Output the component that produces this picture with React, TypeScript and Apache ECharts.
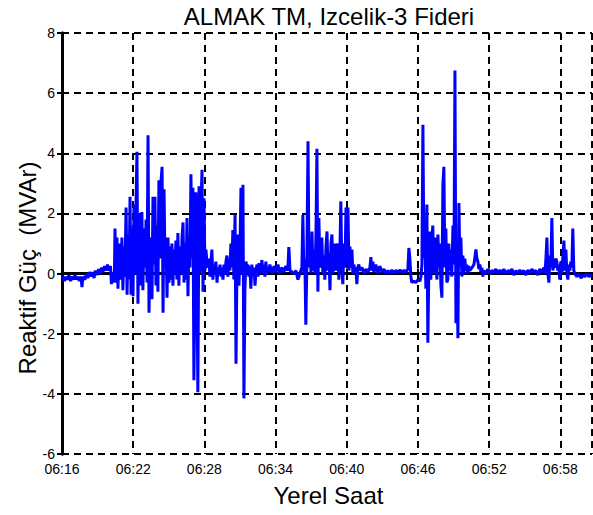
import React, { useEffect, useRef } from "react";
import * as echarts from "echarts";

// ---- texts ----
const titleText = "ALMAK TM, Izcelik-3 Fideri";
const xAxisTitle = "Yerel Saat";
const yAxisTitle = "Reaktif Güç  (MVAr)";

// ---- axes ----
const startHour = 6;
const startMinute = 16; // x = seconds after 06:16:00
const xMaxSec = 2680;
const xTickSec = 360; // 6 minutes
const yMin = -6;
const yMax = 8;
const yStep = 2;

// ---- data: [seconds after 06:16:00, MVAr] ----
const calmStart: [number, number][] = [
  [0, -0.15], [5, -0.1], [13, -0.25], [20, -0.1], [28, -0.2], [35, -0.05], [43, -0.25], [51, -0.1],
  [58, -0.2], [66, -0.05], [73, -0.2], [81, -0.1], [88, -0.25], [96, -0.1], [101, -0.45], [106, -0.1],
  [116, -0.2], [124, 0.0], [131, -0.15], [139, 0.05], [147, -0.1], [154, 0.05], [162, -0.15], [169, 0.1],
  [177, -0.05], [185, 0.15], [192, 0.0], [200, 0.2], [207, 0.05], [215, 0.25], [222, 0.1], [230, 0.3],
  [238, 0.1], [245, 0.25], [250, -0.35], [255, 0.05], [260, -0.3], [265, 0.0],
];

const burst1: [number, number][] = [
  [268, 1.5], [273, -0.3], [278, 1.2], [283, -0.5], [288, 0.6], [293, 1.0], [298, -0.2], [303, 1.2],
  [308, -0.55], [313, 0.9], [318, -0.1], [324, 2.2], [329, -0.7], [334, 1.3], [339, -0.2], [344, 2.55],
  [349, -0.7], [354, 1.5], [359, -0.75], [364, 2.3], [369, 0.0], [374, 2.2], [379, 4.05], [384, -1.0],
  [389, 1.5], [394, 2.0], [399, -0.4], [404, 2.05], [409, -0.55], [415, 1.5], [420, 0.2], [425, 1.8],
  [430, -0.3], [435, 4.6], [440, -1.3], [445, 1.2], [450, 0.0], [455, -0.85], [460, 2.55], [465, 0.3],
  [470, 2.55], [475, -0.4], [480, 1.6], [485, -0.6], [490, 3.1], [495, 0.5], [500, 3.0], [506, 3.55],
  [511, -1.3], [516, 2.8], [521, 0.2], [526, 1.2], [531, -0.8], [536, 1.2], [541, -0.3], [546, 0.9],
  [551, -0.2], [556, 1.0], [561, -0.4], [566, 0.8], [571, 0.0], [576, 1.1], [581, -0.2], [586, 1.35],
  [591, -0.4], [596, 0.9], [602, 0.0], [607, 1.2], [612, 1.7], [617, -0.3], [622, 1.0], [627, -0.2],
  [632, 1.85], [637, -0.75], [642, 1.2], [647, 0.2], [652, 3.3], [657, 0.5], [662, 2.85], [667, -3.55],
  [672, -0.5], [677, 2.7], [682, 0.3], [687, -3.95], [693, 2.9], [698, 0.0], [703, 2.2], [708, 3.45],
  [713, -0.6], [718, 2.5], [723, 0.1],
];

const burst1Tail: [number, number][] = [
  [728, 0.8], [733, 0.35], [738, 0.2], [743, 0.5], [748, -0.1], [753, 0.4], [758, 0.8], [763, -0.2],
  [768, 0.3], [773, 0.0], [778, 0.4], [784, -0.3], [789, 0.2], [794, 0.0], [799, 0.3], [804, -0.1],
  [809, 0.2], [814, -0.2], [819, 0.3], [824, 0.0], [829, 0.4], [834, 0.6], [839, -0.1], [844, 0.5],
  [849, 0.1], [854, 1.0], [859, 0.2], [864, 1.45], [869, -0.2], [875, 1.95], [880, -3.0], [885, 0.5],
  [890, 1.3], [895, -0.4], [900, 0.8], [905, 2.85], [910, 0.0], [915, 2.95], [920, -4.15], [925, -0.5],
  [930, 0.4], [935, 0.2], [940, 0.3], [945, -0.1], [950, 0.25],
];

const calm2: [number, number][] = [
  [955, -0.5], [960, 0.3], [966, -0.1], [971, 0.2], [976, -0.4], [981, 0.1], [986, 0.3], [991, -0.1],
  [996, 0.35], [1001, 0.0], [1006, 0.2], [1011, 0.45], [1016, 0.0], [1021, 0.3], [1026, -0.1], [1031, 0.4],
  [1036, 0.0], [1041, 0.2], [1046, 0.05], [1051, 0.3], [1062, 0.0], [1072, 0.25], [1082, 0.05], [1092, 0.3],
  [1102, 0.0], [1112, 0.2], [1122, 0.05], [1132, 0.25], [1142, 0.1], [1147, 0.88], [1153, 0.1], [1163, 0.05],
  [1173, 0.0], [1183, 0.1], [1193, -0.2], [1203, 0.0], [1208, 0.1],
];

const burst2: [number, number][] = [
  [1213, 0.2], [1218, 1.95], [1223, 0.0], [1228, 0.5], [1233, -1.7], [1238, 0.3], [1244, 4.4], [1249, 0.2],
  [1254, 1.0], [1259, 0.0], [1264, 1.4], [1269, 0.1], [1274, 0.8], [1279, 0.0], [1284, 1.2], [1289, 4.15],
  [1294, -0.6], [1299, 1.85], [1304, 0.2], [1309, 0.8], [1314, 1.2], [1319, 0.0], [1324, 0.6], [1329, -0.2],
  [1335, 0.9], [1340, 1.4], [1345, 0.1], [1350, 0.7], [1355, -0.55], [1360, 1.0], [1365, 1.3], [1370, 0.0],
  [1375, 0.7], [1380, 1.0], [1385, 0.1], [1390, 0.8], [1395, 1.0], [1400, -0.2], [1405, 0.6], [1410, 2.4],
  [1415, 0.2], [1420, -0.35], [1426, 1.0], [1431, 0.2], [1436, 2.2], [1441, 0.3], [1446, 2.2], [1451, 0.1],
  [1456, 0.9], [1461, 0.2], [1466, 0.8], [1471, 0.0], [1476, 0.3], [1481, 0.1], [1486, 0.2], [1491, -0.35],
  [1496, 0.2],
];

const calm3: [number, number][] = [
  [1501, 0.3], [1506, 0.1], [1517, 0.2], [1527, 0.0], [1537, 0.15], [1547, 0.05], [1557, 0.2], [1562, 0.55],
  [1567, 0.1], [1572, 0.4], [1577, 0.05], [1587, 0.3], [1597, 0.0], [1607, 0.25], [1618, 0.05], [1628, 0.15],
  [1638, 0.0], [1648, 0.1], [1658, 0.0], [1668, 0.12], [1678, 0.02], [1688, 0.1], [1698, 0.05], [1709, 0.12],
  [1719, 0.05], [1729, 0.1], [1739, 0.05], [1749, 0.15], [1754, 0.85], [1759, 0.5], [1764, -0.1], [1769, -0.3],
  [1779, -0.25], [1789, -0.3], [1800, -0.2], [1810, -0.25], [1815, -0.1],
];

const burst3: [number, number][] = [
  [1820, 0.3], [1825, 4.95], [1830, 0.5], [1835, 1.2], [1840, -0.5], [1845, 2.3], [1850, -2.3], [1855, 0.2],
  [1860, 1.4], [1865, -0.2], [1870, 1.0], [1875, 1.6], [1880, 0.0], [1886, 1.2], [1891, 0.3], [1896, -0.2],
  [1901, 1.3], [1906, 0.2], [1911, 1.0], [1916, -0.4], [1921, -0.8], [1926, 2.95], [1931, 3.55], [1936, 0.2],
  [1941, 1.5], [1946, -0.3], [1951, -0.2], [1956, 1.0], [1961, 0.1], [1966, 0.8], [1971, -0.1], [1977, 1.6],
  [1982, 0.3], [1987, 6.75], [1992, -1.65], [1997, 0.5], [2002, -2.15], [2007, 2.35], [2012, 0.2], [2017, 1.2],
  [2022, -0.1], [2027, 0.6], [2032, 0.0], [2037, 0.5], [2042, 0.1], [2047, 0.3], [2052, 0.0], [2057, 0.25],
  [2062, 0.1],
];

const calm4: [number, number][] = [
  [2073, 0.2], [2083, 0.3], [2093, 0.8], [2098, 0.5], [2103, 0.4], [2108, 0.15], [2113, 0.3], [2118, 0.05],
  [2123, 0.2], [2128, -0.1], [2133, 0.1], [2143, 0.0], [2153, 0.15], [2164, 0.0], [2174, 0.1], [2184, 0.05],
  [2194, 0.15], [2204, 0.0], [2214, 0.12], [2224, 0.02], [2234, 0.15], [2244, 0.0], [2255, 0.1], [2265, 0.05],
  [2275, 0.15], [2285, -0.05], [2295, 0.1], [2305, 0.0], [2315, 0.12], [2325, 0.02], [2335, 0.1], [2346, -0.05],
  [2356, 0.12], [2366, 0.0], [2376, 0.15], [2386, 0.05], [2396, 0.1], [2406, -0.05], [2416, 0.15], [2426, 0.05],
  [2437, 0.2],
];

const burst4: [number, number][] = [
  [2442, 0.0], [2447, 0.5], [2452, 1.2], [2457, 0.0], [2462, -0.3], [2467, 0.6], [2472, 0.2], [2477, 1.85],
  [2482, 0.1], [2487, 0.3], [2492, 0.2], [2497, 0.5], [2502, 0.4], [2507, 0.1], [2512, 0.3], [2517, -0.2],
  [2522, 0.4], [2528, 0.0], [2533, 0.6], [2538, 1.1], [2543, 0.1], [2548, 0.8], [2553, 0.0], [2558, -0.2],
  [2563, 0.3], [2568, 0.1], [2573, 0.4], [2578, 0.2], [2583, 1.5], [2588, 0.1], [2593, 0.0],
];

const calmEnd: [number, number][] = [
  [2603, -0.1], [2613, 0.0], [2624, -0.15], [2634, -0.05], [2644, -0.1], [2654, 0.0], [2664, -0.1],
  [2674, -0.05], [2679, -0.1],
];

const FONT = '"Liberation Sans", Arial, Helvetica, sans-serif';

function formatClock(sec: number): string {
  const total = startHour * 60 + startMinute + Math.round(sec / 60);
  const h = Math.floor(total / 60);
  const m = total % 60;
  return String(h).padStart(2, "0") + ":" + String(m).padStart(2, "0");
}

export default function App() {
  const ref = useRef<HTMLDivElement>(null);

  useEffect(() => {
    if (!ref.current) return;
    const chart = echarts.init(ref.current, null, { renderer: "svg" });
    const data = [
      ...calmStart, ...burst1, ...burst1Tail, ...calm2, ...burst2,
      ...calm3, ...burst3, ...calm4, ...burst4, ...calmEnd,
    ];

    const grid = { left: 62, top: 33, width: 530, height: 421 };
    const axisLine = { show: true, lineStyle: { color: "#000", width: 3 } };
    const axisTick = { show: true, inside: true, length: 5, lineStyle: { color: "#000", width: 2 } };
    const gridLine = { show: true, lineStyle: { color: "#000", width: 2, type: [7, 5] as number[] } };

    chart.setOption({
      animation: false,
      backgroundColor: "#fff",
      textStyle: { fontFamily: FONT },
      grid,
      xAxis: [
        {
          type: "value",
          min: 0,
          max: xMaxSec,
          interval: xTickSec,
          position: "bottom",
          axisLine,
          axisTick,
          splitLine: gridLine,
          axisLabel: {
            color: "#000",
            fontSize: 14,
            fontFamily: FONT,
            margin: 8,
            showMaxLabel: false,
            formatter: (v: number) => (v % xTickSec === 0 ? formatClock(v) : ""),
          },
        },
        {
          type: "value",
          min: 0,
          max: xMaxSec,
          interval: xTickSec,
          position: "top",
          axisLine,
          axisTick,
          splitLine: { show: false },
          axisLabel: { show: false },
        },
      ],
      yAxis: [
        {
          type: "value",
          min: yMin,
          max: yMax,
          interval: yStep,
          position: "left",
          axisLine,
          axisTick,
          splitLine: gridLine,
          axisLabel: { color: "#000", fontSize: 14, lineHeight: 11, fontFamily: FONT, margin: 7 },
        },
        {
          type: "value",
          min: yMin,
          max: yMax,
          interval: yStep,
          position: "right",
          axisLine,
          axisTick,
          splitLine: { show: false },
          axisLabel: { show: false },
        },
      ],
      graphic: [
        {
          type: "text",
          x: 329,
          y: 16.5,
          style: {
            text: titleText,
            fill: "#000",
            fontSize: 24,
            fontFamily: FONT,
            align: "center",
            verticalAlign: "middle",
          },
        },
        {
          type: "text",
          x: 328.5,
          y: 495.5,
          style: {
            text: xAxisTitle,
            fill: "#000",
            fontSize: 24,
            fontFamily: FONT,
            align: "center",
            verticalAlign: "middle",
          },
        },
        {
          type: "text",
          x: 27,
          y: 268,
          rotation: Math.PI / 2,
          style: {
            text: yAxisTitle,
            fill: "#000",
            fontSize: 24,
            fontFamily: FONT,
            align: "center",
            verticalAlign: "middle",
          },
        },
      ],
      series: [
        {
          type: "line",
          xAxisIndex: 0,
          yAxisIndex: 0,
          data,
          showSymbol: false,
          symbol: "none",
          smooth: false,
          lineStyle: { color: "#0000ff", width: 3 },
          z: 3,
        },
      ],
    });

    return () => chart.dispose();
  }, []);

  return (
    <div
      ref={ref}
      style={{ position: "fixed", left: 0, top: 0, width: 593, height: 515, background: "#fff" }}
    />
  );
}
